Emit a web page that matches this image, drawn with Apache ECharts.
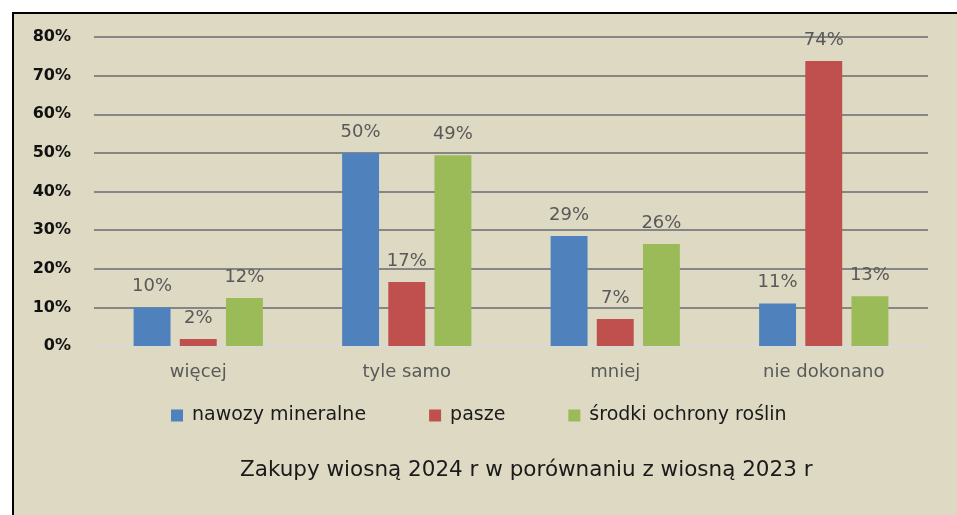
<!DOCTYPE html>
<html>
<head>
<meta charset="utf-8">
<script src="https://cdn.jsdelivr.net/npm/echarts@6/dist/echarts.min.js"></script>
<style>
html, body { margin: 0; padding: 0; background: #fff; overflow: hidden; }
#frame { position: absolute; left: 12px; top: 12px; width: 960px; height: 520px;
	background: #ddd9c3; border-left: 2px solid #000; border-top: 2px solid #000; box-sizing: border-box; }
#chart { position: absolute; left: 0; top: 0; width: 957px; height: 515px; }
</style>
</head>
<body>
<div id="frame"></div>
<div id="chart"></div>
<script>
// kategorie i wartości (w %)
var categories = ['więcej', 'tyle samo', 'mniej', 'nie dokonano'];
var seriesNames = ['nawozy mineralne', 'pasze', 'środki ochrony roślin'];
var nawozy = [10, 50, 28.5, 11];
var pasze = [1.8, 16.6, 7, 73.8];
var srodki = [12.4, 49.4, 26.4, 12.9];
var labelsNawozy = ['10%', '50%', '29%', '11%'];
var labelsPasze = ['2%', '17%', '7%', '74%'];
var labelsSrodki = ['12%', '49%', '26%', '13%'];
var yMin = 0, yMax = 80, yStep = 10;
var titleText = 'Zakupy wiosną 2024 r w porównaniu z wiosną 2023 r';

var colors = ['#4f81bd', '#c0504d', '#9bbb59'];
var font = 'DejaVu Sans';

function makeSeries(name, data, labels, color) {
	return {
		name: name,
		type: 'bar',
		data: data,
		itemStyle: { color: color },
		barGap: '25%',
		barCategoryGap: '38%',
		label: {
			show: true,
			position: 'top',
			distance: 12,
			color: '#595959',
			fontFamily: font,
			fontSize: 18,
			formatter: function (p) { return labels[p.dataIndex]; }
		}
	};
}

var myChart = echarts.init(document.getElementById('chart'));
var option = {
	backgroundColor: 'transparent',
	animation: false,
	color: colors,
	title: {
		text: titleText,
		left: 235,
		top: 454,
		textStyle: { fontFamily: font, fontSize: 21.5, fontWeight: 'normal', color: '#1a1a1a' }
	},
	legend: {
		left: 171,
		top: 406,
		padding: 0,
		itemWidth: 12,
		itemHeight: 12,
		itemGap: 63,
		icon: 'rect',
		textStyle: { fontFamily: font, fontSize: 19, color: '#1a1a1a', padding: [0, 0, 0, 4] },
		data: seriesNames
	},
	grid: { left: 94, right: 29, top: 37, bottom: 169 },
	xAxis: {
		type: 'category',
		data: categories,
		axisLine: { lineStyle: { color: '#d9d9d9', width: 2 } },
		axisTick: { show: false },
		axisLabel: { color: '#595959', fontFamily: font, fontSize: 18, margin: 17 }
	},
	yAxis: {
		type: 'value',
		min: yMin,
		max: yMax,
		interval: yStep,
		axisLine: { show: false },
		axisTick: { show: false },
		splitLine: { lineStyle: { color: '#868686', width: 2 } },
		axisLabel: {
			formatter: '{value}%',
			color: '#111',
			fontFamily: font,
			fontWeight: 'bold',
			fontSize: 16,
			margin: 23
		}
	},
	series: [
		makeSeries(seriesNames[0], nawozy, labelsNawozy, colors[0]),
		makeSeries(seriesNames[1], pasze, labelsPasze, colors[1]),
		makeSeries(seriesNames[2], srodki, labelsSrodki, colors[2])
	]
};
myChart.setOption(option);
</script>
</body>
</html>
